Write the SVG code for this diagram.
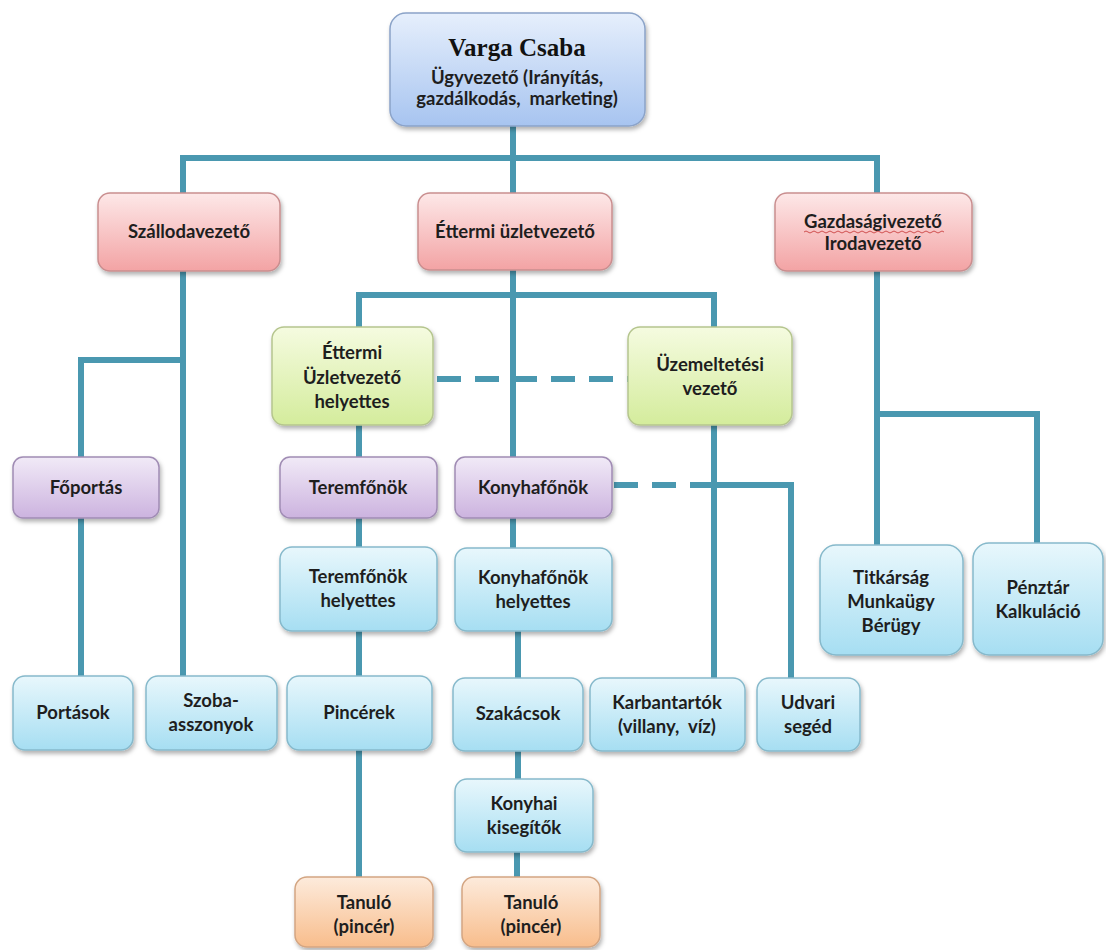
<svg xmlns="http://www.w3.org/2000/svg" width="1106" height="950" viewBox="0 0 1106 950">
<defs>
  <linearGradient id="gBlue" x1="0" y1="0" x2="0" y2="1">
    <stop offset="0" stop-color="#e6effc"/><stop offset="1" stop-color="#a7c4f0"/>
  </linearGradient>
  <linearGradient id="gRed" x1="0" y1="0" x2="0" y2="1">
    <stop offset="0" stop-color="#fde8e8"/><stop offset="1" stop-color="#f3a3a4"/>
  </linearGradient>
  <linearGradient id="gGreen" x1="0" y1="0" x2="0" y2="1">
    <stop offset="0" stop-color="#f5fbe0"/><stop offset="1" stop-color="#d4ec9c"/>
  </linearGradient>
  <linearGradient id="gPurple" x1="0" y1="0" x2="0" y2="1">
    <stop offset="0" stop-color="#f1eaf7"/><stop offset="1" stop-color="#ccb3df"/>
  </linearGradient>
  <linearGradient id="gCyan" x1="0" y1="0" x2="0" y2="1">
    <stop offset="0" stop-color="#e8f7fc"/><stop offset="1" stop-color="#a6def2"/>
  </linearGradient>
  <linearGradient id="gOrange" x1="0" y1="0" x2="0" y2="1">
    <stop offset="0" stop-color="#fdebdc"/><stop offset="1" stop-color="#f8bd8c"/>
  </linearGradient>
  <filter id="sh" x="-10%" y="-10%" width="125%" height="130%">
    <feDropShadow dx="1.5" dy="3" stdDeviation="2" flood-color="#000" flood-opacity="0.3"/>
  </filter>
</defs>
<style>
  .box { stroke-width: 1.5; filter: url(#sh); }
  .blue { fill: url(#gBlue); stroke: #8ba3c8; }
  .red { fill: url(#gRed); stroke: #c98e8f; }
  .green { fill: url(#gGreen); stroke: #b5c58e; }
  .purple { fill: url(#gPurple); stroke: #a08cb4; }
  .cyan { fill: url(#gCyan); stroke: #86b9cb; }
  .orange { fill: url(#gOrange); stroke: #d3a582; }
  .t { font-family: Lato, "Open Sans", "Noto Sans", sans-serif; font-weight: bold; font-size: 18.5px; fill: #1e1e1e; text-anchor: middle; }
  .title { font-family: "Liberation Serif", "DejaVu Serif", serif; font-weight: bold; font-size: 25px; fill: #111; text-anchor: middle; }
  .c { stroke: #4a98b0; stroke-width: 6; fill: none; }
  .d { stroke: #4a98b0; stroke-width: 6; fill: none; stroke-dasharray: 24 14; }
</style>
<rect width="1106" height="950" fill="#ffffff"/>

<g id="connectors">
  <path class="c" d="M513 126 V160 M183 158 H877 M183 155 V193 M513 155 V193 M877 155 V193"/>
  <path class="c" d="M183 271 V676 M80 360 H186 M81 357 V457 M81 518 V676"/>
  <path class="c" d="M513 270 V457 M359 295 H714 M359 292 V327 M714 292 V327"/>
  <path class="d" d="M437 379 H628"/>
  <path class="c" d="M359 425 V457 M359 518 V547 M359 631 V676 M359 750 V877"/>
  <path class="c" d="M513 518 V548 M518 631 V678 M518 751 V779 M517 852 V877"/>
  <path class="c" d="M714 425 V678"/>
  <path class="d" d="M614 485 H714"/>
  <path class="c" d="M711 485 H791 V678"/>
  <path class="c" d="M877 271 V545 M874 414 H1037 V543"/>
</g>

<g id="n-varga">
  <rect class="box blue" x="390" y="13" width="255" height="113" rx="16"/>
  <text class="title" x="517" y="56">Varga Csaba</text>
  <text class="t" x="517" y="84">Ügyvezető (Irányítás,</text>
  <text class="t" x="517" y="105">gazdálkodás,&#160; marketing)</text>
</g>

<g id="n-szallodavezeto">
  <rect class="box red" x="98" y="193" width="182" height="78" rx="12"/>
  <text class="t" x="189" y="238">Szállodavezető</text>
</g>
<g id="n-ettermi-uzletvezeto">
  <rect class="box red" x="418" y="193" width="194" height="77" rx="12"/>
  <text class="t" x="515" y="238">Éttermi üzletvezető</text>
</g>
<g id="n-gazdasagi">
  <rect class="box red" x="775" y="193" width="197" height="78" rx="12"/>
  <text class="t" x="873" y="228">Gazdaságivezető</text>
  <path d="M804 232 q2 -2 4 0 t4 0 t4 0 t4 0 t4 0 t4 0 t4 0 t4 0 t4 0 t4 0 t4 0 t4 0 t4 0 t4 0 t4 0 t4 0 t4 0 t4 0 t4 0 t4 0 t4 0 t4 0 t4 0 t4 0 t4 0 t4 0 t4 0 t4 0 t4 0 t4 0 t4 0 t4 0 t4 0 t4 0 t4 0" fill="none" stroke="#d05050" stroke-width="1"/>
  <text class="t" x="873" y="250">Irodavezető</text>
</g>

<g id="n-ettermi-helyettes">
  <rect class="box green" x="272" y="327" width="161" height="98" rx="12"/>
  <text class="t" x="352" y="359">Éttermi</text>
  <text class="t" x="352" y="384">Üzletvezető</text>
  <text class="t" x="352" y="408">helyettes</text>
</g>
<g id="n-uzemeltetesi">
  <rect class="box green" x="628" y="327" width="164" height="98" rx="12"/>
  <text class="t" x="710" y="371">Üzemeltetési</text>
  <text class="t" x="710" y="395">vezető</text>
</g>

<g id="n-foportas">
  <rect class="box purple" x="13" y="457" width="146" height="61" rx="10"/>
  <text class="t" x="86" y="494">Főportás</text>
</g>
<g id="n-teremfonok">
  <rect class="box purple" x="280" y="457" width="157" height="61" rx="10"/>
  <text class="t" x="358" y="494">Teremfőnök</text>
</g>
<g id="n-konyhafonok">
  <rect class="box purple" x="455" y="457" width="157" height="61" rx="10"/>
  <text class="t" x="533" y="494">Konyhafőnök</text>
</g>

<g id="n-teremfonok-helyettes">
  <rect class="box cyan" x="280" y="547" width="157" height="84" rx="12"/>
  <text class="t" x="358" y="583">Teremfőnök</text>
  <text class="t" x="358" y="607">helyettes</text>
</g>
<g id="n-konyhafonok-helyettes">
  <rect class="box cyan" x="455" y="548" width="157" height="83" rx="12"/>
  <text class="t" x="533" y="584">Konyhafőnök</text>
  <text class="t" x="533" y="608">helyettes</text>
</g>
<g id="n-titkarsag">
  <rect class="box cyan" x="820" y="545" width="143" height="110" rx="16"/>
  <text class="t" x="891" y="584">Titkárság</text>
  <text class="t" x="891" y="608">Munkaügy</text>
  <text class="t" x="891" y="632">Bérügy</text>
</g>
<g id="n-penztar">
  <rect class="box cyan" x="973" y="543" width="130" height="112" rx="16"/>
  <text class="t" x="1038" y="594">Pénztár</text>
  <text class="t" x="1038" y="618">Kalkuláció</text>
</g>

<g id="n-portasok">
  <rect class="box cyan" x="13" y="676" width="120" height="74" rx="12"/>
  <text class="t" x="73" y="719">Portások</text>
</g>
<g id="n-szobaasszonyok">
  <rect class="box cyan" x="146" y="676" width="131" height="74" rx="12"/>
  <text class="t" x="211" y="707">Szoba-</text>
  <text class="t" x="211" y="731">asszonyok</text>
</g>
<g id="n-pincerek">
  <rect class="box cyan" x="287" y="676" width="145" height="74" rx="12"/>
  <text class="t" x="359" y="719">Pincérek</text>
</g>
<g id="n-szakacsok">
  <rect class="box cyan" x="453" y="678" width="130" height="73" rx="12"/>
  <text class="t" x="518" y="720">Szakácsok</text>
</g>
<g id="n-karbantartok">
  <rect class="box cyan" x="590" y="678" width="155" height="73" rx="12"/>
  <text class="t" x="667" y="709">Karbantartók</text>
  <text class="t" x="667" y="733">(villany,&#160; víz)</text>
</g>
<g id="n-udvari">
  <rect class="box cyan" x="757" y="678" width="103" height="73" rx="12"/>
  <text class="t" x="808" y="709">Udvari</text>
  <text class="t" x="808" y="733">segéd</text>
</g>

<g id="n-konyhai-kisegitok">
  <rect class="box cyan" x="455" y="779" width="138" height="73" rx="12"/>
  <text class="t" x="524" y="810">Konyhai</text>
  <text class="t" x="524" y="834">kisegítők</text>
</g>

<g id="n-tanulo-1">
  <rect class="box orange" x="295" y="877" width="138" height="70" rx="12"/>
  <text class="t" x="364" y="909">Tanuló</text>
  <text class="t" x="364" y="933">(pincér)</text>
</g>
<g id="n-tanulo-2">
  <rect class="box orange" x="462" y="877" width="138" height="70" rx="12"/>
  <text class="t" x="531" y="909">Tanuló</text>
  <text class="t" x="531" y="933">(pincér)</text>
</g>
</svg>
